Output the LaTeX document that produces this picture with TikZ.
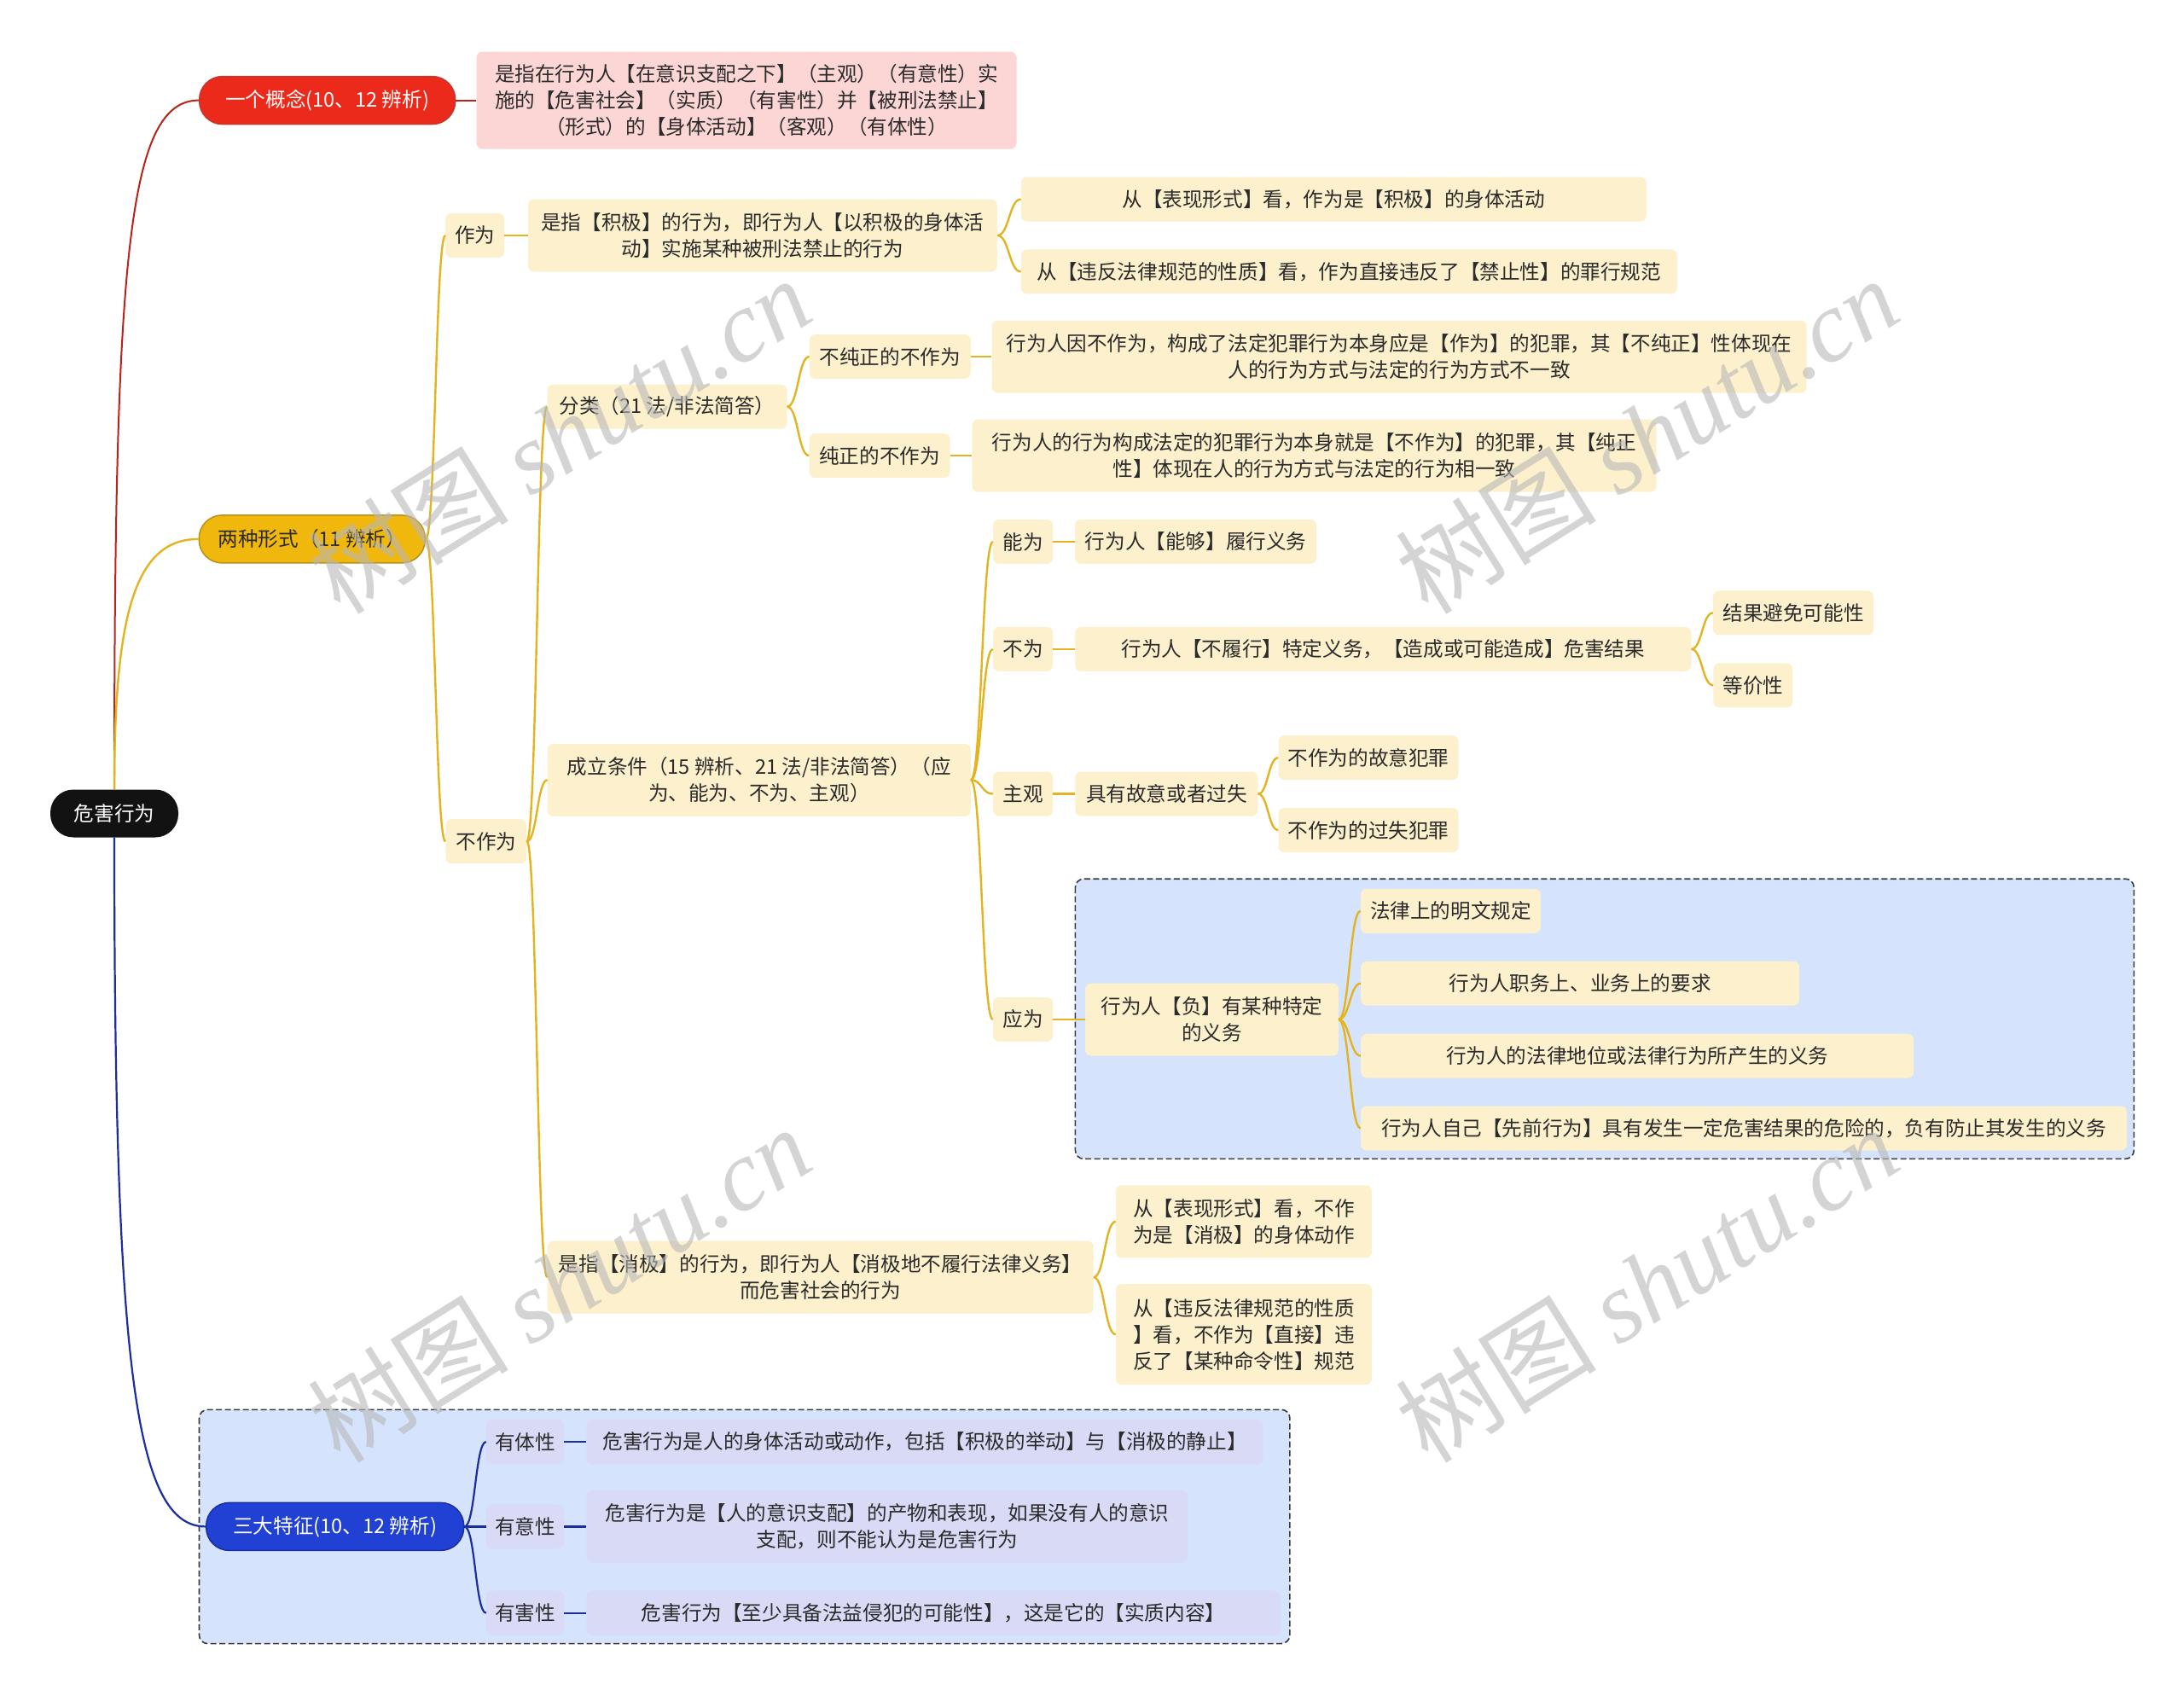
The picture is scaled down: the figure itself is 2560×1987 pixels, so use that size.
\documentclass[tikz,border=0pt]{standalone}
\usepackage{fontspec}
\newfontfamily\cjk{Noto Sans CJK SC}
\newfontfamily\wmlat{Liberation Serif}
\usetikzlibrary{calc}
\definecolor{cream}{HTML}{FDF0CC}
\definecolor{pinkbox}{HTML}{FCD6D5}
\definecolor{lav}{HTML}{D8DAF6}
\definecolor{grpbg}{HTML}{D5E3FC}
\definecolor{grpline}{HTML}{3A3A3A}
\definecolor{txt}{HTML}{2B2B2B}
\definecolor{redpill}{HTML}{EC2A1B}
\definecolor{redline}{HTML}{B8231A}
\definecolor{yelpill}{HTML}{F0B70C}
\definecolor{yline}{HTML}{E3B420}
\definecolor{bluepill}{HTML}{2140D4}
\definecolor{bline}{HTML}{1B2E9E}
\definecolor{wmgray}{HTML}{B8B8B8}
\tikzset{
  base/.style={inner sep=0pt, align=center, font=\cjk\fontsize{23.6}{31}\selectfont, rounded corners=7},
  cbox/.style={base, fill=cream, text=txt},
  lbox/.style={base, fill=lav, text=txt},
  pbox/.style={base, fill=pinkbox, text=txt},
  pill/.style={base, rounded corners=27, line width=1.5, minimum height=56},
  rl/.style={draw=redline, line width=2},
  yl/.style={draw=yline, line width=2.4},
  bl/.style={draw=bline, line width=2.2},
  grp/.style={fill=grpbg, draw=grpline, line width=1.6, rounded corners=10, dash pattern=on 7pt off 3.5pt},
  sc/.style={to path={let \p1=(\tikztostart), \p2=(\tikztotarget) in .. controls ({(\x1+\x2)/2},\y1) and ({(\x1+\x2)/2},\y2) .. (\tikztotarget)}},
  wm/.style={text=wmgray, opacity=0.6, font=\cjk\fontsize{118}{120}\selectfont, rotate=32, inner sep=0pt}
}
\begin{document}
\begin{tikzpicture}[x=1pt,y=-1pt]
\useasboundingbox (0,0) rectangle (2560,1987);
\fill[white] (0,0) rectangle (2560,1987);

% groups
\draw[grp] (233.5,1652.3) rectangle (1511.9,1926.6);
\draw[grp] (1260.4,1030.2) rectangle (2501.3,1358.4);

% root and main branches
\node[base, rounded corners=27, fill=black!93, text=white, minimum width=150, minimum height=56] (root) at (134,953.5) {危害行为};
\node[pill, fill=redpill, draw=redline!90, text=white, minimum width=300] (red) at (383.7,117.6) {一个概念(10、12 辨析)};
\node[pbox, minimum width=633, minimum height=114] (redd) at (875,117.6) {是指在行为人【在意识支配之下】（主观）（有意性）实\\施的【危害社会】（实质）（有害性）并【被刑法禁止】\\（形式）的【身体活动】（客观）（有体性）};
\node[pill, fill=yelpill, draw=yline!80!black, text=txt, minimum width=265] (yel) at (365.8,631.9) {两种形式（11 辨析）};
\node[pill, fill=bluepill, draw=bline, text=white, minimum width=302] (blu) at (392.7,1789.4) {三大特征(10、12 辨析)};

% 作为
\node[cbox, minimum width=69, minimum height=52] (zw) at (556.7,276) {作为};
\node[cbox, minimum width=550, minimum height=85] (zwd) at (893.9,276) {是指【积极】的行为，即行为人【以积极的身体活\\动】实施某种被刑法禁止的行为};
\node[cbox, minimum width=733, minimum height=52] (za) at (1563.3,233.5) {从【表现形式】看，作为是【积极】的身体活动};
\node[cbox, minimum width=769, minimum height=52] (zb) at (1581.3,318.4) {从【违反法律规范的性质】看，作为直接违反了【禁止性】的罪行规范};

% 不作为
\node[cbox, minimum width=95, minimum height=52] (bzw) at (569.8,986.2) {不作为};
\node[cbox, minimum width=281, minimum height=52] (fl) at (782,476.7) {分类（21 法/非法简答）};
\node[cbox, minimum width=189, minimum height=52] (bcz) at (1043.3,418) {不纯正的不作为};
\node[cbox, minimum width=955, minimum height=85] (bczd) at (1640,418) {行为人因不作为，构成了法定犯罪行为本身应是【作为】的犯罪，其【不纯正】性体现在\\人的行为方式与法定的行为方式不一致};
\node[cbox, minimum width=165, minimum height=52] (cz) at (1031,534) {纯正的不作为};
\node[cbox, minimum width=802, minimum height=85] (czd) at (1540.5,534) {行为人的行为构成法定的犯罪行为本身就是【不作为】的犯罪，其【纯正\\性】体现在人的行为方式与法定的行为相一致};

\node[cbox, minimum width=496, minimum height=85] (cl) at (889.8,914.3) {成立条件（15 辨析、21 法/非法简答）（应\\为、能为、不为、主观）};
\node[cbox, minimum width=70, minimum height=52] (nw) at (1199,635) {能为};
\node[cbox, minimum width=283, minimum height=52] (nwd) at (1401.7,635) {行为人【能够】履行义务};
\node[cbox, minimum width=70, minimum height=52] (bw) at (1199,760.9) {不为};
\node[cbox, minimum width=722, minimum height=52] (bwd) at (1621.3,760.9) {行为人【不履行】特定义务，【造成或可能造成】危害结果};
\node[cbox, minimum width=188, minimum height=52] (jg) at (2102,718.4) {结果避免可能性};
\node[cbox, minimum width=93, minimum height=52] (dj) at (2054.8,803.3) {等价性};
\node[cbox, minimum width=70, minimum height=52] (zg) at (1199,930.6) {主观};
\node[cbox, minimum width=214, minimum height=52] (zgd) at (1367.4,930.6) {具有故意或者过失};
\node[cbox, minimum width=211, minimum height=52] (gy) at (1604,888.2) {不作为的故意犯罪};
\node[cbox, minimum width=211, minimum height=52] (gs) at (1604,973) {不作为的过失犯罪};
\node[cbox, minimum width=70, minimum height=52] (yw) at (1199,1195) {应为};
\node[cbox, minimum width=297, minimum height=85] (ywd) at (1420.4,1195) {行为人【负】有某种特定\\的义务};
\node[cbox, minimum width=211, minimum height=52] (y1) at (1700.4,1067.8) {法律上的明文规定};
\node[cbox, minimum width=514, minimum height=52] (y2) at (1852.2,1152.7) {行为人职务上、业务上的要求};
\node[cbox, minimum width=648, minimum height=52] (y3) at (1919.2,1237.6) {行为人的法律地位或法律行为所产生的义务};
\node[cbox, minimum width=898, minimum height=52] (y4) at (2044,1322.5) {行为人自己【先前行为】具有发生一定危害结果的危险的，负有防止其发生的义务};

\node[cbox, minimum width=640, minimum height=85] (xj) at (961.7,1497.1) {是指【消极】的行为，即行为人【消极地不履行法律义务】\\而危害社会的行为};
\node[cbox, minimum width=300, minimum height=85] (xa) at (1458,1431.9) {从【表现形式】看，不作\\为是【消极】的身体动作};
\node[cbox, minimum width=300, minimum height=118] (xb) at (1458,1564.1) {从【违反法律规范的性质\\】看，不作为【直接】违\\反了【某种命令性】规范};

% 三大特征
\node[lbox, minimum width=91, minimum height=52] (t1) at (615.5,1690) {有体性};
\node[lbox, minimum width=793, minimum height=52] (t1d) at (1084,1690) {危害行为是人的身体活动或动作，包括【积极的举动】与【消极的静止】};
\node[lbox, minimum width=91, minimum height=52] (t2) at (615.5,1789.4) {有意性};
\node[lbox, minimum width=705, minimum height=85] (t2d) at (1040,1789.4) {危害行为是【人的意识支配】的产物和表现，如果没有人的意识\\支配，则不能认为是危害行为};
\node[lbox, minimum width=91, minimum height=52] (t3) at (615.5,1890.7) {有害性};
\node[lbox, minimum width=813, minimum height=52] (t3d) at (1094,1890.7) {危害行为【至少具备法益侵犯的可能性】，这是它的【实质内容】};

% connectors from root
\draw[rl] (root.north) .. controls (134,300) and (150,117.6) .. (red.west);
\draw[yl] (root.north) .. controls (134,720) and (158,631.9) .. (yel.west);
\draw[bl] (root.south) .. controls (134,1600) and (158,1789.4) .. (blu.west);

% red branch
\draw[rl] (red.east) -- (redd.west);

% yellow branch
\draw[yl] (yel.east) to[sc] (zw.west);
\draw[yl] (yel.east) to[sc] (bzw.west);
\draw[yl] (zw.east) -- (zwd.west);
\draw[yl] (zwd.east) to[sc] (za.west);
\draw[yl] (zwd.east) to[sc] (zb.west);
\draw[yl] (bzw.east) to[sc] (fl.west);
\draw[yl] (bzw.east) to[sc] (cl.west);
\draw[yl] (bzw.east) to[sc] (xj.west);
\draw[yl] (fl.east) to[sc] (bcz.west);
\draw[yl] (fl.east) to[sc] (cz.west);
\draw[yl] (bcz.east) -- (bczd.west);
\draw[yl] (cz.east) -- (czd.west);
\draw[yl] (cl.east) to[sc] (nw.west);
\draw[yl] (cl.east) to[sc] (bw.west);
\draw[yl] (cl.east) to[sc] (zg.west);
\draw[yl] (cl.east) to[sc] (yw.west);
\draw[yl] (nw.east) -- (nwd.west);
\draw[yl] (bw.east) -- (bwd.west);
\draw[yl] (bwd.east) to[sc] (jg.west);
\draw[yl] (bwd.east) to[sc] (dj.west);
\draw[yl] (zg.east) -- (zgd.west);
\draw[yl] (zgd.east) to[sc] (gy.west);
\draw[yl] (zgd.east) to[sc] (gs.west);
\draw[yl] (yw.east) -- (ywd.west);
\draw[yl] (ywd.east) to[sc] (y1.west);
\draw[yl] (ywd.east) to[sc] (y2.west);
\draw[yl] (ywd.east) to[sc] (y3.west);
\draw[yl] (ywd.east) to[sc] (y4.west);
\draw[yl] (xj.east) to[sc] (xa.west);
\draw[yl] (xj.east) to[sc] (xb.west);

% blue branch
\draw[bl] (blu.east) to[sc] (t1.west);
\draw[bl] (blu.east) to[sc] (t2.west);
\draw[bl] (blu.east) to[sc] (t3.west);
\draw[bl] (t1.east) -- (t1d.west);
\draw[bl] (t2.east) -- (t2d.west);
\draw[bl] (t3.east) -- (t3d.west);

% watermarks
\node[wm] (wm1) at (655,510) {树图 {\wmlat\itshape shutu.cn}};
\node[wm] (wm2) at (655,1505) {树图 {\wmlat\itshape shutu.cn}};
\node[wm] (wm3) at (1930,510) {树图 {\wmlat\itshape shutu.cn}};
\node[wm] (wm4) at (1930,1505) {树图 {\wmlat\itshape shutu.cn}};
\end{tikzpicture}
\end{document}
